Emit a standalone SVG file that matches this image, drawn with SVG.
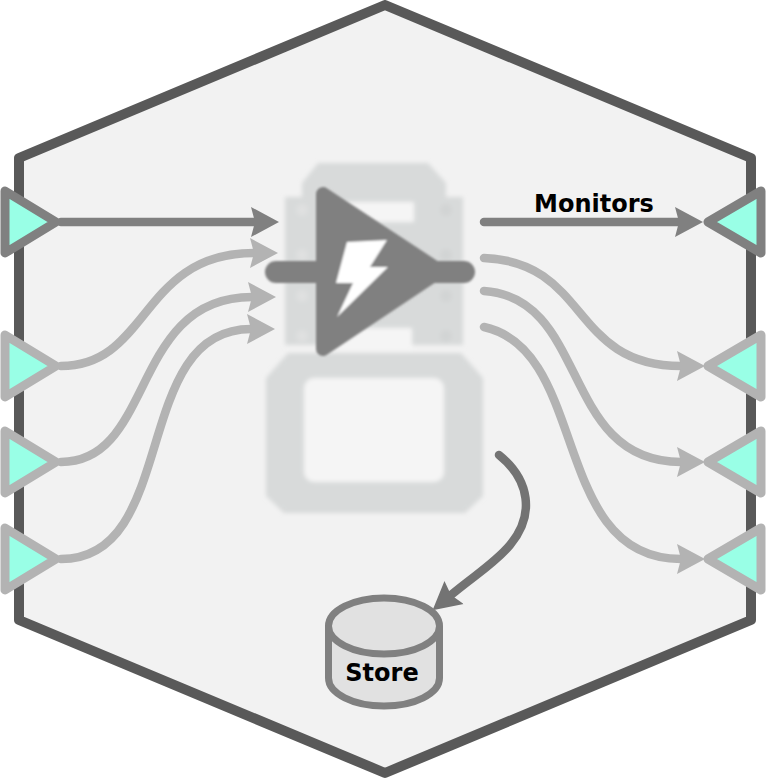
<svg xmlns="http://www.w3.org/2000/svg" width="766" height="779" viewBox="0 0 766 779">
<style>
.port{fill:#99ffe6;stroke-width:9;stroke-linejoin:round}
.dark{stroke:#808080}
.light{stroke:#b3b3b3}
.conn{fill:none;stroke-width:8.5;stroke-linecap:round}
.lbl{font-family:"DejaVu Sans",Verdana,sans-serif;font-weight:700;font-size:24px;fill:#000;text-anchor:middle}
.bg{fill:#d8dada}
.hole{fill:#f5f5f5}
</style>
<defs>
<filter id="blur" x="-10%" y="-10%" width="120%" height="120%"><feGaussianBlur stdDeviation="2"/></filter>
<filter id="blur2" x="-10%" y="-10%" width="120%" height="120%"><feGaussianBlur stdDeviation="0.8"/></filter>
<marker id="ahD" markerUnits="userSpaceOnUse" markerWidth="30" markerHeight="32" viewBox="0 0 30 32" refX="4" refY="16" orient="auto"><path d="M0,1 L28,16 L0,31 L4,16 Z" fill="#808080"/></marker>
<marker id="ahL" markerUnits="userSpaceOnUse" markerWidth="30" markerHeight="32" viewBox="0 0 30 32" refX="4" refY="16" orient="auto"><path d="M0,1 L28,16 L0,31 L4,16 Z" fill="#b3b3b3"/></marker>
<marker id="ahS" markerUnits="userSpaceOnUse" markerWidth="30" markerHeight="32" viewBox="0 0 30 32" refX="4" refY="16" orient="auto"><path d="M0,1 L28,16 L0,31 L4,16 Z" fill="#737373"/></marker>
</defs>
<g id="boundary"><polygon points="385,5 751,158 751,620 385,773 19,620 19,158" fill="#f2f2f2" stroke="#595959" stroke-width="10" stroke-linejoin="round"/></g>
<g id="icon">
<g filter="url(#blur)">
<polygon class="bg" points="318,163 428,163 446,183 446,197 463,197 463,345 285,345 285,197 302,197 302,183"/>
<polygon class="bg" points="288,353 461,353 483,378 483,496 465,513 284,513 266,496 266,378"/>
<rect class="hole" x="330" y="202" width="84" height="20"/>
<rect class="hole" x="330" y="328" width="82" height="22"/>
<rect class="hole" x="304" y="378" width="140" height="104" rx="10"/>
<g fill="#dfe0e0"><circle cx="302" cy="210" r="6"/><circle cx="302" cy="255" r="6"/><circle cx="302" cy="296" r="6"/><circle cx="302" cy="336" r="6"/></g>
<g fill="#d2d4d4"><circle cx="446" cy="210" r="6"/><circle cx="446" cy="255" r="6"/><circle cx="446" cy="296" r="6"/><circle cx="446" cy="336" r="6"/></g>
</g>
<g filter="url(#blur2)">
<path d="M276,272 H464" stroke="#808080" stroke-width="22" stroke-linecap="round" fill="none"/>
<polygon points="323,194 323,349 440,271" fill="#808080" stroke="#808080" stroke-width="14" stroke-linejoin="round"/>
<polygon points="347,242 387,240 370,267 388,267 337,317 353,283 336,283" fill="#fff"/>
</g>
</g>
<g id="connectors">
<path class="conn dark" marker-end="url(#ahD)" d="M61,222 H255"/>
<path class="conn light" marker-end="url(#ahL)" d="M61,366 C150,366 140,253 254,253"/>
<path class="conn light" marker-end="url(#ahL)" d="M61,462 C155,462 130,297 252,297"/>
<path class="conn light" marker-end="url(#ahL)" d="M61,559 C180,559 130,329 251,329"/>
<path class="conn dark" marker-end="url(#ahD)" d="M484,222 H679"/>
<path class="conn light" marker-end="url(#ahL)" d="M484,258 C590,262 570,366 681,366"/>
<path class="conn light" marker-end="url(#ahL)" d="M484,291 C590,298 560,462 681,462"/>
<path class="conn light" marker-end="url(#ahL)" d="M484,327 C590,350 550,559 681,559"/>
<path class="conn" stroke="#737373" marker-end="url(#ahS)" d="M499,455 C530,480 535,515 510,545 C495,563 475,575 451,595"/>
</g>
<g id="port-in-1"><polygon class="port dark" points="5,191 56,222 5,253"/></g>
<g id="port-in-2"><polygon class="port light" points="5,335 56,366 5,397"/></g>
<g id="port-in-3"><polygon class="port light" points="5,431 56,462 5,493"/></g>
<g id="port-in-4"><polygon class="port light" points="5,528 56,559 5,590"/></g>
<g id="port-out-1"><polygon class="port dark" points="761,191 708,222 761,253"/></g>
<g id="port-out-2"><polygon class="port light" points="761,335 708,366 761,397"/></g>
<g id="port-out-3"><polygon class="port light" points="761,431 708,462 761,493"/></g>
<g id="port-out-4"><polygon class="port light" points="761,528 708,559 761,590"/></g>
<g id="label-monitors"><text class="lbl" x="594" y="212">Monitors</text></g>
<g id="store">
<path d="M328.5,626 V678 A55.500,28 0 0 0 439.500,678 V626" fill="#e1e1e1" stroke="#808080" stroke-width="7"/>
<ellipse cx="384" cy="626" rx="55.500" ry="28" fill="#e1e1e1" stroke="#808080" stroke-width="7"/>
<text class="lbl" x="382" y="681">Store</text>
</g>
</svg>
